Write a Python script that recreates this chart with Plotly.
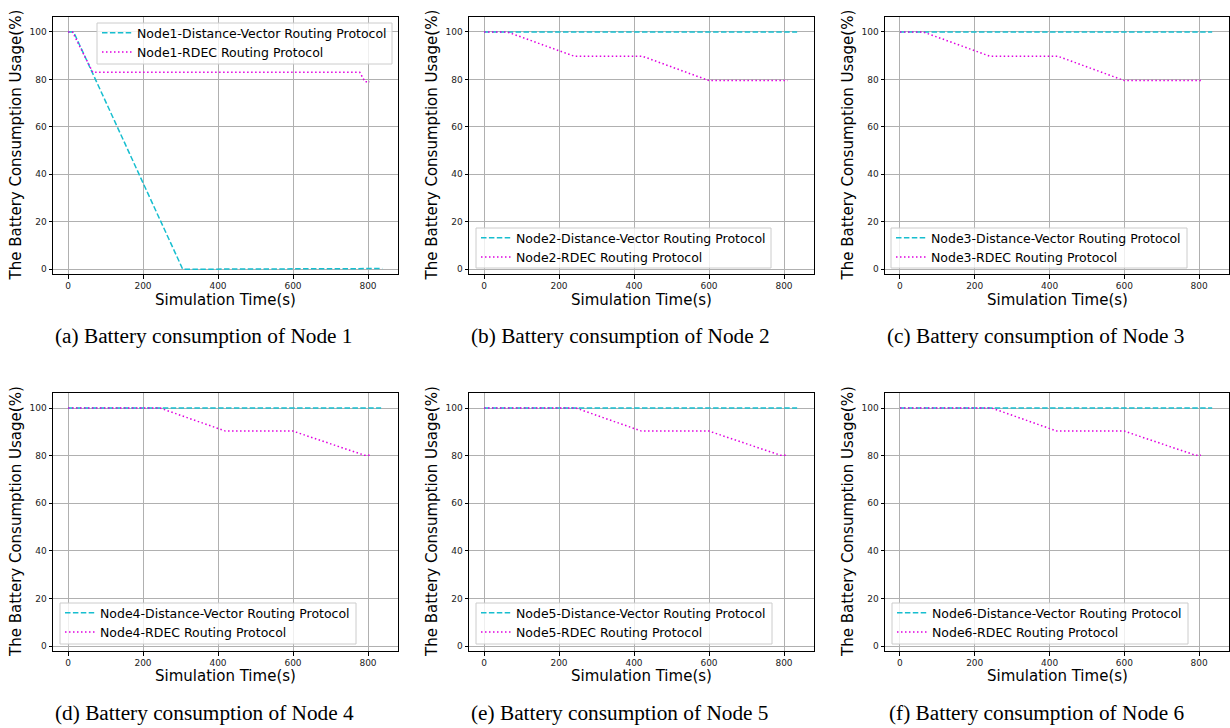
import plotly.graph_objects as go

# ---------------- data ----------------
x_ticks = [0, 200, 400, 600, 800]
y_ticks = [0, 20, 40, 60, 80, 100]

# Node 1
n1_dv_t = [0, 15, 306, 800, 838]
n1_dv_v = [100, 100, 0, 0, 0.3]
n1_rd_t = [0, 12, 66, 778, 792, 805]
n1_rd_v = [100, 100, 83, 83, 79, 79]

# Node 2
n2_dv_t = [0, 835]
n2_dv_v = [100, 100]
n2_rd_t = [0, 62, 240, 422, 600, 810]
n2_rd_v = [100, 100, 89.8, 89.8, 79.5, 79.5]

# Node 3
n3_dv_t = [0, 835]
n3_dv_v = [100, 100]
n3_rd_t = [0, 62, 240, 422, 600, 810]
n3_rd_v = [100, 100, 89.8, 89.8, 79.5, 79.5]

# Node 4
n4_dv_t = [0, 835]
n4_dv_v = [100, 100]
n4_rd_t = [0, 245, 420, 600, 790, 805]
n4_rd_v = [100, 100, 90.3, 90.3, 80.2, 80.2]

# Node 5
n5_dv_t = [0, 835]
n5_dv_v = [100, 100]
n5_rd_t = [0, 245, 420, 600, 790, 805]
n5_rd_v = [100, 100, 90.3, 90.3, 80.2, 80.2]

# Node 6
n6_dv_t = [0, 835]
n6_dv_v = [100, 100]
n6_rd_t = [0, 245, 420, 600, 790, 805]
n6_rd_v = [100, 100, 90.3, 90.3, 80.2, 80.2]

node_names = ["Node1", "Node2", "Node3", "Node4", "Node5", "Node6"]
captions = ["(a) Battery consumption of Node 1", "(b) Battery consumption of Node 2",
            "(c) Battery consumption of Node 3", "(d) Battery consumption of Node 4",
            "(e) Battery consumption of Node 5", "(f) Battery consumption of Node 6"]
dv_label = "-Distance-Vector Routing Protocol"
rd_label = "-RDEC Routing Protocol"
x_title = "Simulation Time(s)"
y_title = "The Battery Consumption Usage(%)"

series = [
    (n1_dv_t, n1_dv_v, n1_rd_t, n1_rd_v),
    (n2_dv_t, n2_dv_v, n2_rd_t, n2_rd_v),
    (n3_dv_t, n3_dv_v, n3_rd_t, n3_rd_v),
    (n4_dv_t, n4_dv_v, n4_rd_t, n4_rd_v),
    (n5_dv_t, n5_dv_v, n5_rd_t, n5_rd_v),
    (n6_dv_t, n6_dv_v, n6_rd_t, n6_rd_v),
]

# ---------------- layout geometry (pixels) ----------------
W, H = 1230, 728
col_px = [(53, 398), (469, 814), (885, 1229)]
row_px = [(17, 274), (393, 651)]
xtitle_y = [300, 676]
caption_y = [336, 713]
caption_x = [204, 620, 1036]
# legend frames (left, top, right, bottom) in pixels
legend_box = [(97, 23, 392, 64), (476, 228, 771, 268), (891, 228, 1187, 268),
              (60, 603, 356, 644), (476, 603, 772, 644), (892, 603, 1188, 644)]
X_RANGE = [-40, 880]
Y_RANGE = [-2, 106.3]

CYAN = "#17becf"
MAGENTA = "#e000e0"
FONT = "DejaVu Sans"

fig = go.Figure()
layout = dict(
    width=W, height=H, margin=dict(l=0, r=0, t=0, b=0),
    paper_bgcolor="white", plot_bgcolor="white", showlegend=True,
    annotations=[], shapes=[],
)

for i, (dvt, dvv, rdt, rdv) in enumerate(series):
    r, c = divmod(i, 3)
    k = i + 1
    xa = "x" if k == 1 else f"x{k}"
    ya = "y" if k == 1 else f"y{k}"
    lg = "legend" if k == 1 else f"legend{k}"
    fig.add_trace(go.Scatter(
        x=dvt, y=dvv, mode="lines", name=node_names[i] + dv_label,
        line=dict(color=CYAN, width=1.5, dash="5.5px,2.4px"),
        xaxis=xa, yaxis=ya, legend=lg))
    fig.add_trace(go.Scatter(
        x=rdt, y=rdv, mode="lines", name=node_names[i] + rd_label,
        line=dict(color=MAGENTA, width=1.5, dash="1.5px,2.5px"),
        xaxis=xa, yaxis=ya, legend=lg))

    x0, x1 = col_px[c]
    y0, y1 = row_px[r]
    xdom = [x0 / W, x1 / W]
    ydom = [1 - y1 / H, 1 - y0 / H]
    axis_common = dict(
        showline=True, linecolor="black", linewidth=1, mirror=True,
        ticks="outside", ticklen=3.5, tickwidth=1, tickcolor="black",
        showgrid=True, gridcolor="#b0b0b0", gridwidth=0.8, zeroline=False,
        tickfont=dict(family=FONT, size=9, color="#222"),
    )
    layout["xaxis" if k == 1 else f"xaxis{k}"] = dict(
        axis_common, domain=xdom, anchor=ya, range=X_RANGE,
        tickvals=x_ticks, ticktext=[str(v) for v in x_ticks])
    layout["yaxis" if k == 1 else f"yaxis{k}"] = dict(
        axis_common, domain=ydom, anchor=xa, range=Y_RANGE,
        tickvals=y_ticks, ticktext=[str(v) for v in y_ticks])

    # legend frame: drawn between gridlines and traces (hides grid, like the original)
    bl, bt, br, bb = legend_box[i]
    def px_to_x(p):
        return X_RANGE[0] + (p - x0) / (x1 - x0) * (X_RANGE[1] - X_RANGE[0])
    def px_to_y(p):
        return Y_RANGE[0] + (y1 - p) / (y1 - y0) * (Y_RANGE[1] - Y_RANGE[0])
    layout["shapes"].append(dict(
        type="rect", layer="between", xref=xa, yref=ya,
        x0=px_to_x(bl), x1=px_to_x(br), y0=px_to_y(bb), y1=px_to_y(bt),
        line=dict(color="#cccccc", width=1), fillcolor="rgba(255,255,255,0.8)"))
    layout[lg] = dict(
        x=bl / W, y=1 - (bt - 5) / H, xanchor="left", yanchor="top",
        xref="paper", yref="paper",
        bgcolor="rgba(255,255,255,0)", borderwidth=0,
        font=dict(family=FONT, size=12.5, color="black"), itemwidth=30,
        tracegroupgap=0)

    # axis titles
    layout["annotations"].append(dict(
        text=x_title, xref="paper", yref="paper", x=(x0 + x1) / 2 / W,
        y=1 - xtitle_y[r] / H, xanchor="center", yanchor="middle", showarrow=False,
        font=dict(family=FONT, size=15, color="black")))
    layout["annotations"].append(dict(
        text=y_title, xref="paper", yref="paper", x=(x0 - 37) / W,
        y=1 - (y0 + y1) / 2 / H, xanchor="center", yanchor="middle", showarrow=False,
        textangle=-90, font=dict(family=FONT, size=15, color="black")))
    # caption
    layout["annotations"].append(dict(
        text=captions[i], xref="paper", yref="paper", x=caption_x[c] / W,
        y=1 - caption_y[r] / H, xanchor="center", yanchor="middle", showarrow=False,
        font=dict(family="Liberation Serif", size=21.3, color="black")))

fig.update_layout(**layout)
fig.write_html("out.html")
